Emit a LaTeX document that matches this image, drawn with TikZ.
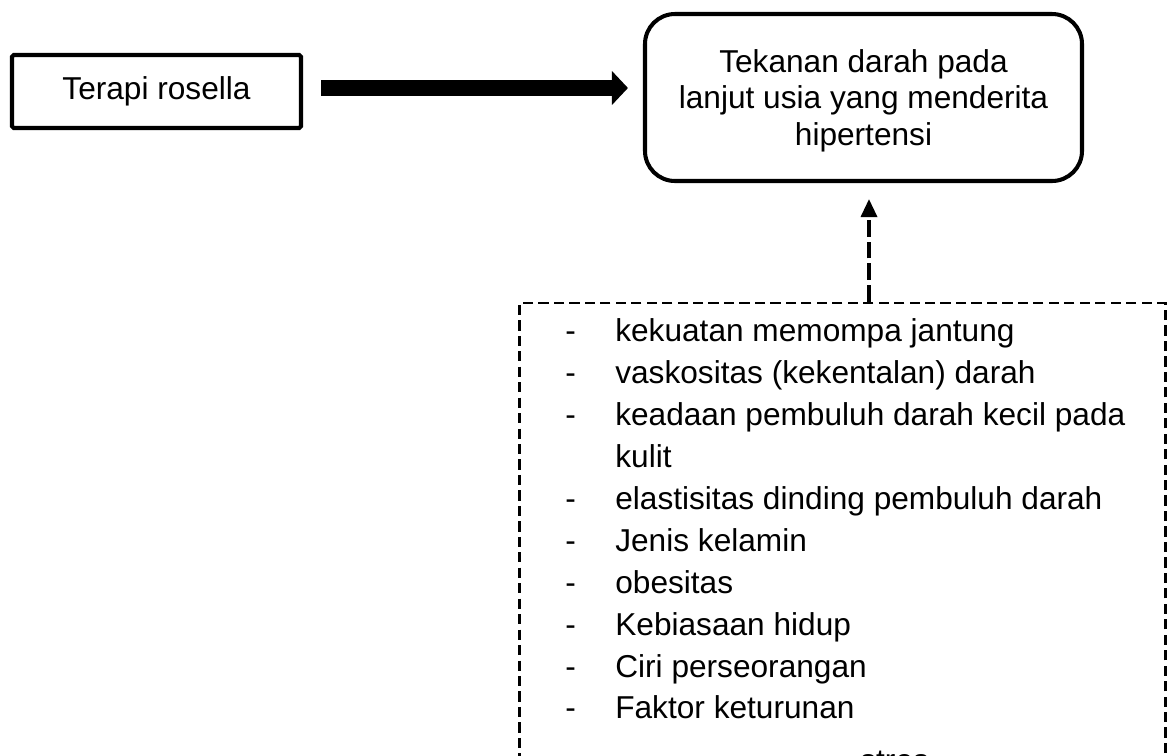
\documentclass[tikz,border=0pt]{standalone}
\usepackage{fontspec}
\setmainfont{Liberation Sans}
\usetikzlibrary{arrows.meta,calc,positioning}

\begin{document}
\begin{tikzpicture}[font=\fontsize{18}{23.9}\selectfont,
  plain/.style={draw=black,line width=2.3pt,rounded corners=1pt,inner sep=0pt,align=center,minimum width=5.78cm,minimum height=1.46cm},
  outcome/.style={draw=black,line width=2.3pt,rounded corners=0.6cm,inner sep=0pt,align=center,minimum width=8.74cm,minimum height=3.34cm,text depth=-1.5pt,font=\fontsize{18}{20.6}\selectfont},
  factorbox/.style={draw=black,line width=1.7pt,dash pattern=on 5.8pt off 3pt,minimum width=12.92cm,minimum height=10cm,inner sep=0pt},
  ar/.style={-{Triangle[length=0.32cm,width=0.66cm]},line width=9pt},
  arp/.style={-{Triangle[length=0.36cm,width=0.32cm]},line width=1.9pt,dash pattern=on 9.5pt off 2.8pt}]
  \useasboundingbox (0,0) rectangle (23.4,-15.12);
  \clip (0,0) rectangle (23.4,-15.12);
  % top row: treatment -> outcome
  \node[plain]   (rosella) at (3.13,-1.83)  {Terapi rosella};
  \node[outcome] (hyp)     at (17.27,-1.95) {Tekanan darah pada\\lanjut usia yang menderita\\hipertensi};
  % confounding factors, box runs past the lower edge
  \node[factorbox,anchor=north] (factors) at (16.85,-6.03) {};
  \node[anchor=base west,inner sep=0pt] (list) at (11.3,-6.82)
    {\begin{tabular}[t]{@{}p{1.0cm}@{}l@{}}
      - & kekuatan memompa jantung\\
      - & vaskositas (kekentalan) darah\\
      - & keadaan pembuluh darah kecil pada\\
        & kulit\\
      - & elastisitas dinding pembuluh darah\\
      - & Jenis kelamin\\
      - & obesitas\\
      - & Kebiasaan hidup\\
      - & Ciri perseorangan\\
      - & Faktor keturunan
    \end{tabular}};
  \node[anchor=base west,inner sep=0pt] (stres) at (17.2,-15.42) {stres};
  % arrows
  \coordinate (jt) at ([xshift=0.11cm]hyp.south);
  \draw[ar,shorten <=0.36cm,shorten >=0.3cm] ([yshift=0.07cm]rosella.east) -- ([yshift=0.07cm]rosella.east -| hyp.west);
  \draw[arp,shorten >=0.32cm] (factors.north -| jt) -- (jt);
\end{tikzpicture}
\end{document}
